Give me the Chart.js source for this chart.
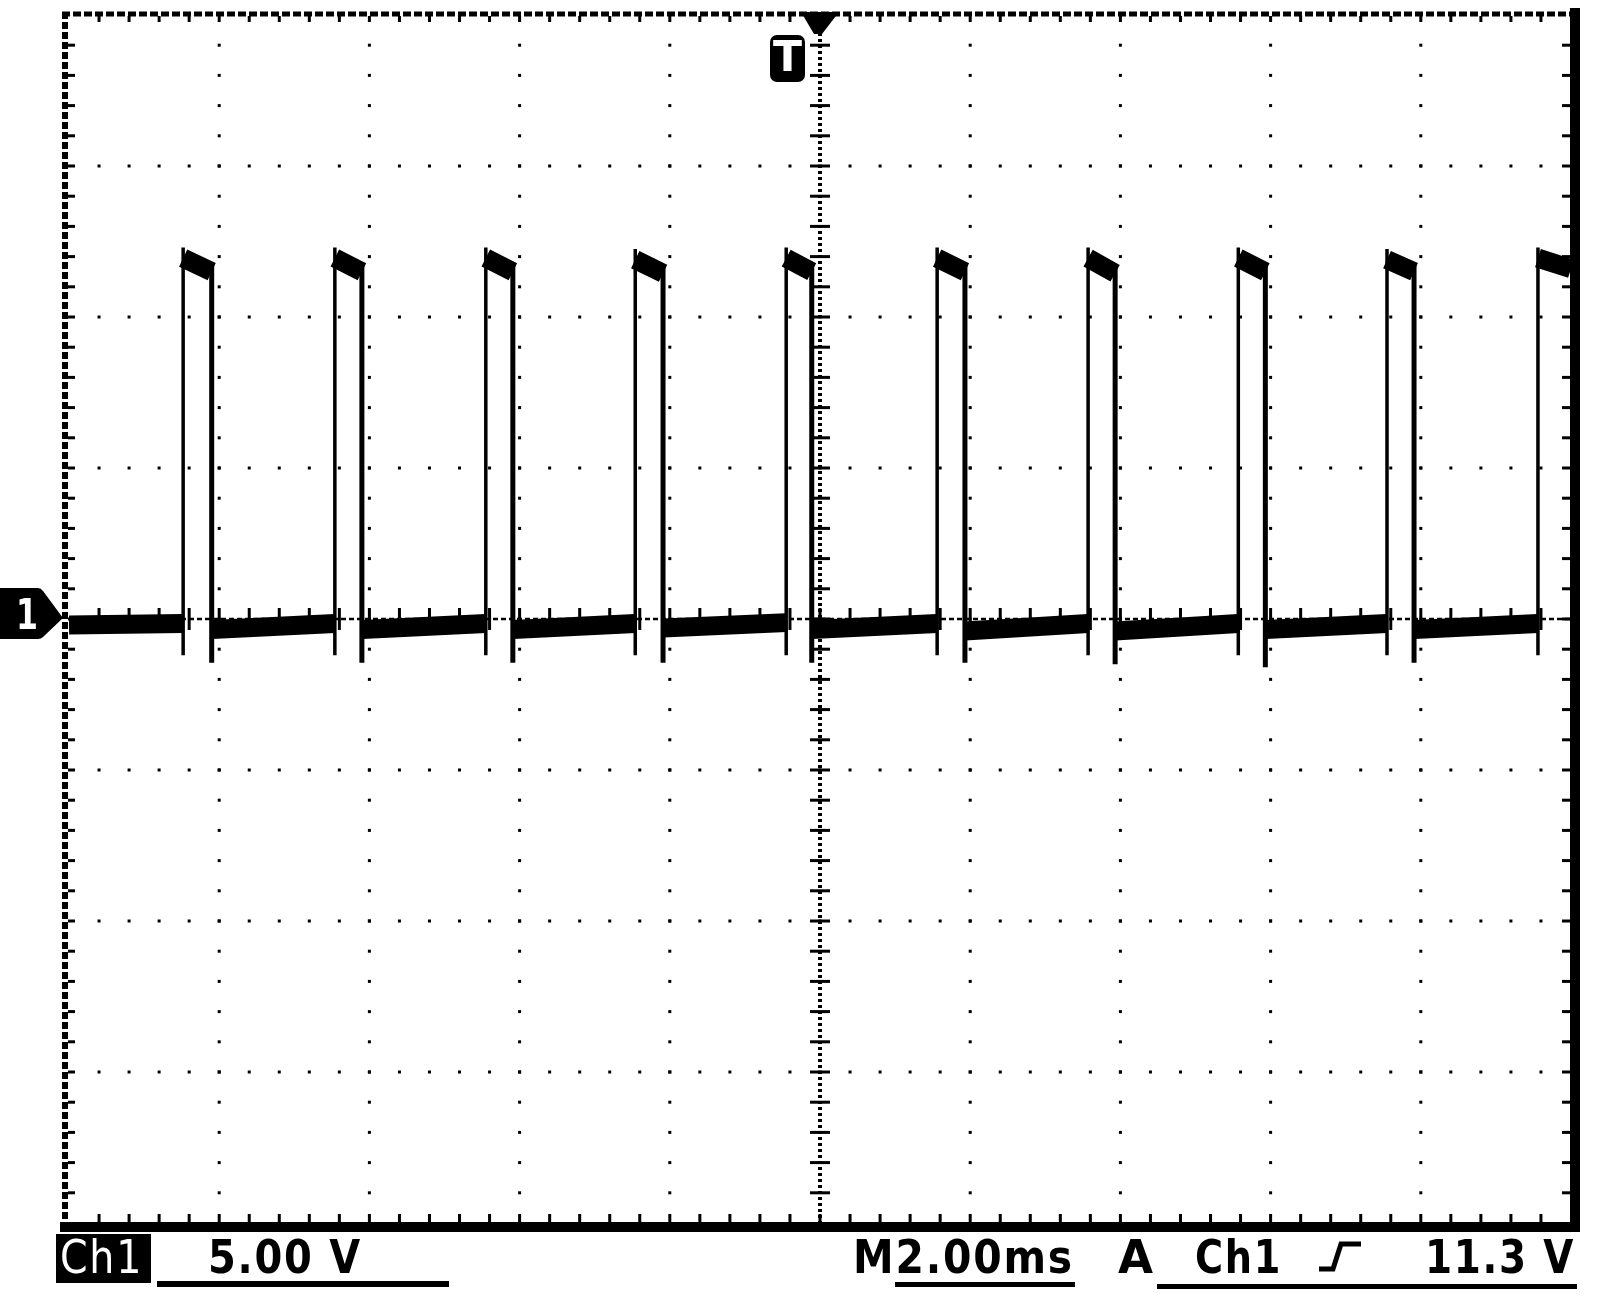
<!DOCTYPE html>
<html>
<head>
<meta charset="utf-8">
<script src="https://cdn.jsdelivr.net/npm/chart.js@4.4.1/dist/chart.umd.min.js"></script>
<style>
html, body { margin: 0; padding: 0; background: #fff; }
#wrap { position: relative; width: 1600px; height: 1302px; overflow: hidden; background: #fff; }
#scope { position: absolute; left: 0; top: 0; }
.lbl { position: absolute; font-family: "DejaVu Sans", sans-serif; font-weight: bold; font-size: 46px;
       line-height: 46px; color: #000; white-space: pre; transform-origin: 0 0; letter-spacing: 2px; }
.bar { position: absolute; background: #000; }
</style>
</head>
<body>
<div id="wrap">
  <canvas id="scope" width="1600" height="1302" style="width:1600px;height:1302px"></canvas>

  <!-- marcador de tierra del canal 1 -->
  <svg style="position:absolute;left:0;top:585px" width="70" height="56">
    <path d="M0,3 L38,3 Q41,3 43,6 L63,33 L43,52 Q41,54 38,54 L0,54 Z" fill="#000"/>
  </svg>
  <div class="lbl" style="left:16px;top:594px;color:#fff;font-size:42px;line-height:42px;letter-spacing:0" data-w="22">1</div>

  <!-- marcador de disparo -->
  <svg style="position:absolute;left:798px;top:10px" width="44" height="28">
    <polygon points="3,2 41,2 24,24 16,24" fill="#000"/>
  </svg>
  <div class="bar" style="left:770px;top:35px;width:35px;height:47px;border-radius:7px"></div>
  <div class="lbl" style="left:773px;top:34px;color:#fff;font-size:42px;line-height:46px;letter-spacing:0" data-w="29">T</div>

  <!-- barra de estado inferior -->
  <div class="bar" style="left:56px;top:1234px;width:95px;height:49px"></div>
  <div class="lbl" style="left:60px;top:1234px;color:#fff;font-weight:normal" data-w="83">Ch1</div>
  <div class="lbl" style="left:208px;top:1234px" data-w="154">5.00 V</div>
  <div class="bar" style="left:157px;top:1281px;width:292px;height:6px"></div>

  <div class="lbl" style="left:853px;top:1234px" data-w="221">M2.00ms</div>
  <div class="bar" style="left:895px;top:1282px;width:180px;height:5px"></div>
  <div class="lbl" style="left:1118px;top:1234px" data-w="37">A</div>
  <div class="lbl" style="left:1195px;top:1234px" data-w="87">Ch1</div>
  <svg style="position:absolute;left:1316px;top:1238px" width="48" height="36">
    <polyline points="3,31 17,31 25,6 45,6" fill="none" stroke="#000" stroke-width="5"/>
  </svg>
  <div class="lbl" style="left:1425px;top:1234px" data-w="150">11.3 V</div>
  <div class="bar" style="left:1157px;top:1284px;width:420px;height:5px"></div>
</div>

<script>
// Tiempos en ms (0 = centro de la pantalla, 2 ms/div)
const riseTimes = [-8.48, -6.46, -4.45, -2.46, -0.45, 1.56, 3.57, 5.57, 7.55, 9.56];
const fallTimes = [-8.10, -6.10, -4.09, -2.09, -0.11, 1.93, 3.93, 5.93, 7.91];

// Niveles en V (5 V/div)
const topStart = [11.95, 11.95, 11.95, 11.9, 11.95, 11.95, 11.95, 11.95, 11.9, 11.95];
const topEnd   = [11.5, 11.5, 11.5, 11.45, 11.5, 11.5, 11.45, 11.5, 11.5, 11.6];
const lowStart = [-0.2, -0.35, -0.35, -0.35, -0.3, -0.35, -0.4, -0.4, -0.35, -0.35];
const lowEnd   = [-0.15, -0.15, -0.15, -0.15, -0.12, -0.15, -0.15, -0.15, -0.15, -0.15];
const riseDip  = [-1.2, -1.2, -1.2, -1.2, -1.2, -1.2, -1.2, -1.2, -1.2, -1.2];
const fallDip  = [-1.45, -1.45, -1.45, -1.45, -1.45, -1.45, -1.5, -1.6, -1.45];

// Reticula: 10 x 8 divisiones
const xDivs = [-10, -8, -6, -4, -2, 0, 2, 4, 6, 8, 10];
const yDivs = [-20, -15, -10, -5, 0, 5, 10, 15, 20];

// Construir los trazos a partir de los arreglos
const lowPts = [], topPts = [], risePts = [], fallPts = [];
riseTimes.forEach((tr, i) => {
    const t0 = i === 0 ? xDivs[0] : fallTimes[i - 1];
    lowPts.push({x: t0, y: lowStart[i]}, {x: tr, y: lowEnd[i]}, {x: tr, y: null});
    const tf = i < fallTimes.length ? fallTimes[i] : xDivs[xDivs.length - 1];
    topPts.push({x: tr, y: topStart[i]}, {x: tf, y: topEnd[i]}, {x: tf, y: null});
    risePts.push({x: tr, y: riseDip[i]}, {x: tr, y: topStart[i] + 0.35}, {x: tr, y: null});
    if (i < fallTimes.length) {
        fallPts.push({x: tf, y: topEnd[i] + 0.3}, {x: tf, y: fallDip[i]}, {x: tf, y: null});
    }
});

// Reticula estilo osciloscopio
const graticule = {
    id: 'graticule',
    beforeDatasetsDraw(chart) {
        const {ctx, chartArea: a, scales: {x, y}} = chart;
        const xs = xDivs.map(v => x.getPixelForValue(v));
        const ys = yDivs.map(v => y.getPixelForValue(v)).reverse();
        const cx = x.getPixelForValue(0), cy = y.getPixelForValue(0);
        const minX = [], minY = [];
        for (let j = 1; j < 50; j++) minX.push(a.left + j * (a.right - a.left) / 50);
        for (let j = 1; j < 40; j++) minY.push(a.top + j * (a.bottom - a.top) / 40);
        ctx.save();
        ctx.fillStyle = '#000';
        ctx.strokeStyle = '#000';

        // lineas punteadas mayores
        xs.forEach((px, i) => {
            if (i === 0 || i === xs.length - 1 || i === 5) return;
            minY.forEach(py => ctx.fillRect(px - 1.5, py - 1.5, 3, 3));
        });
        ys.forEach((py, i) => {
            if (i === 0 || i === ys.length - 1 || i === 4) return;
            minX.forEach(px => ctx.fillRect(px - 1.5, py - 1.5, 3, 3));
        });

        // ejes centrales
        ctx.setLineDash([3, 3]);
        ctx.lineWidth = 4;
        ctx.beginPath(); ctx.moveTo(cx, a.top); ctx.lineTo(cx, a.bottom); ctx.stroke();
        ctx.setLineDash([5, 3]);
        ctx.lineWidth = 2.5;
        ctx.beginPath(); ctx.moveTo(a.left, cy); ctx.lineTo(a.right, cy); ctx.stroke();
        minY.forEach(py => ctx.fillRect(cx - 10, py - 1.5, 20, 3));
        minX.forEach(px => ctx.fillRect(px - 1.5, cy - 11, 3, 22));

        // bordes
        ctx.setLineDash([8, 3]);
        ctx.lineWidth = 5;
        ctx.beginPath(); ctx.moveTo(a.left - 7, a.top - 1); ctx.lineTo(a.right, a.top - 1); ctx.stroke();
        ctx.setLineDash([7, 3]);
        ctx.lineWidth = 6;
        ctx.beginPath(); ctx.moveTo(a.left - 4, a.top - 3); ctx.lineTo(a.left - 4, a.bottom); ctx.stroke();
        ctx.setLineDash([]);
        ctx.fillRect(a.right - 1, a.top - 7, 10, a.bottom - a.top + 16);
        ctx.fillRect(a.left - 9, a.bottom - 1, a.right - a.left + 18, 10);
        minX.forEach(px => {
            ctx.fillRect(px - 1.5, a.top + 1, 3, 6);
            ctx.fillRect(px - 1.5, a.bottom - 9, 3, 8);
        });
        minY.forEach(py => {
            ctx.fillRect(a.left - 1, py - 1.5, 7, 3);
            ctx.fillRect(a.right - 9, py - 1.5, 8, 3);
        });
        ctx.restore();
    }
};

new Chart(document.getElementById('scope'), {
    type: 'line',
    data: {
        datasets: [
            {data: lowPts, borderWidth: 19},
            {data: topPts, borderWidth: 19},
            {data: risePts, borderWidth: 3.5},
            {data: fallPts, borderWidth: 5}
        ]
    },
    options: {
        responsive: false,
        animation: false,
        events: [],
        spanGaps: false,
        layout: {padding: {left: 69, right: 29, top: 15, bottom: 79}},
        elements: {
            point: {radius: 0},
            line: {tension: 0, borderColor: '#000', borderCapStyle: 'butt', borderJoinStyle: 'miter', fill: false}
        },
        scales: {
            x: {type: 'linear', min: xDivs[0], max: xDivs[xDivs.length - 1], display: false},
            y: {type: 'linear', min: yDivs[0], max: yDivs[yDivs.length - 1], display: false}
        },
        plugins: {legend: {display: false}, tooltip: {enabled: false}}
    },
    plugins: [graticule]
});

// Ajustar el ancho de los textos al de la pantalla original
document.querySelectorAll('.lbl[data-w]').forEach(el => {
    const w = el.getBoundingClientRect().width;
    el.style.transform = `scaleX(${(+el.dataset.w / w).toFixed(3)})`;
});
</script>
</body>
</html>
